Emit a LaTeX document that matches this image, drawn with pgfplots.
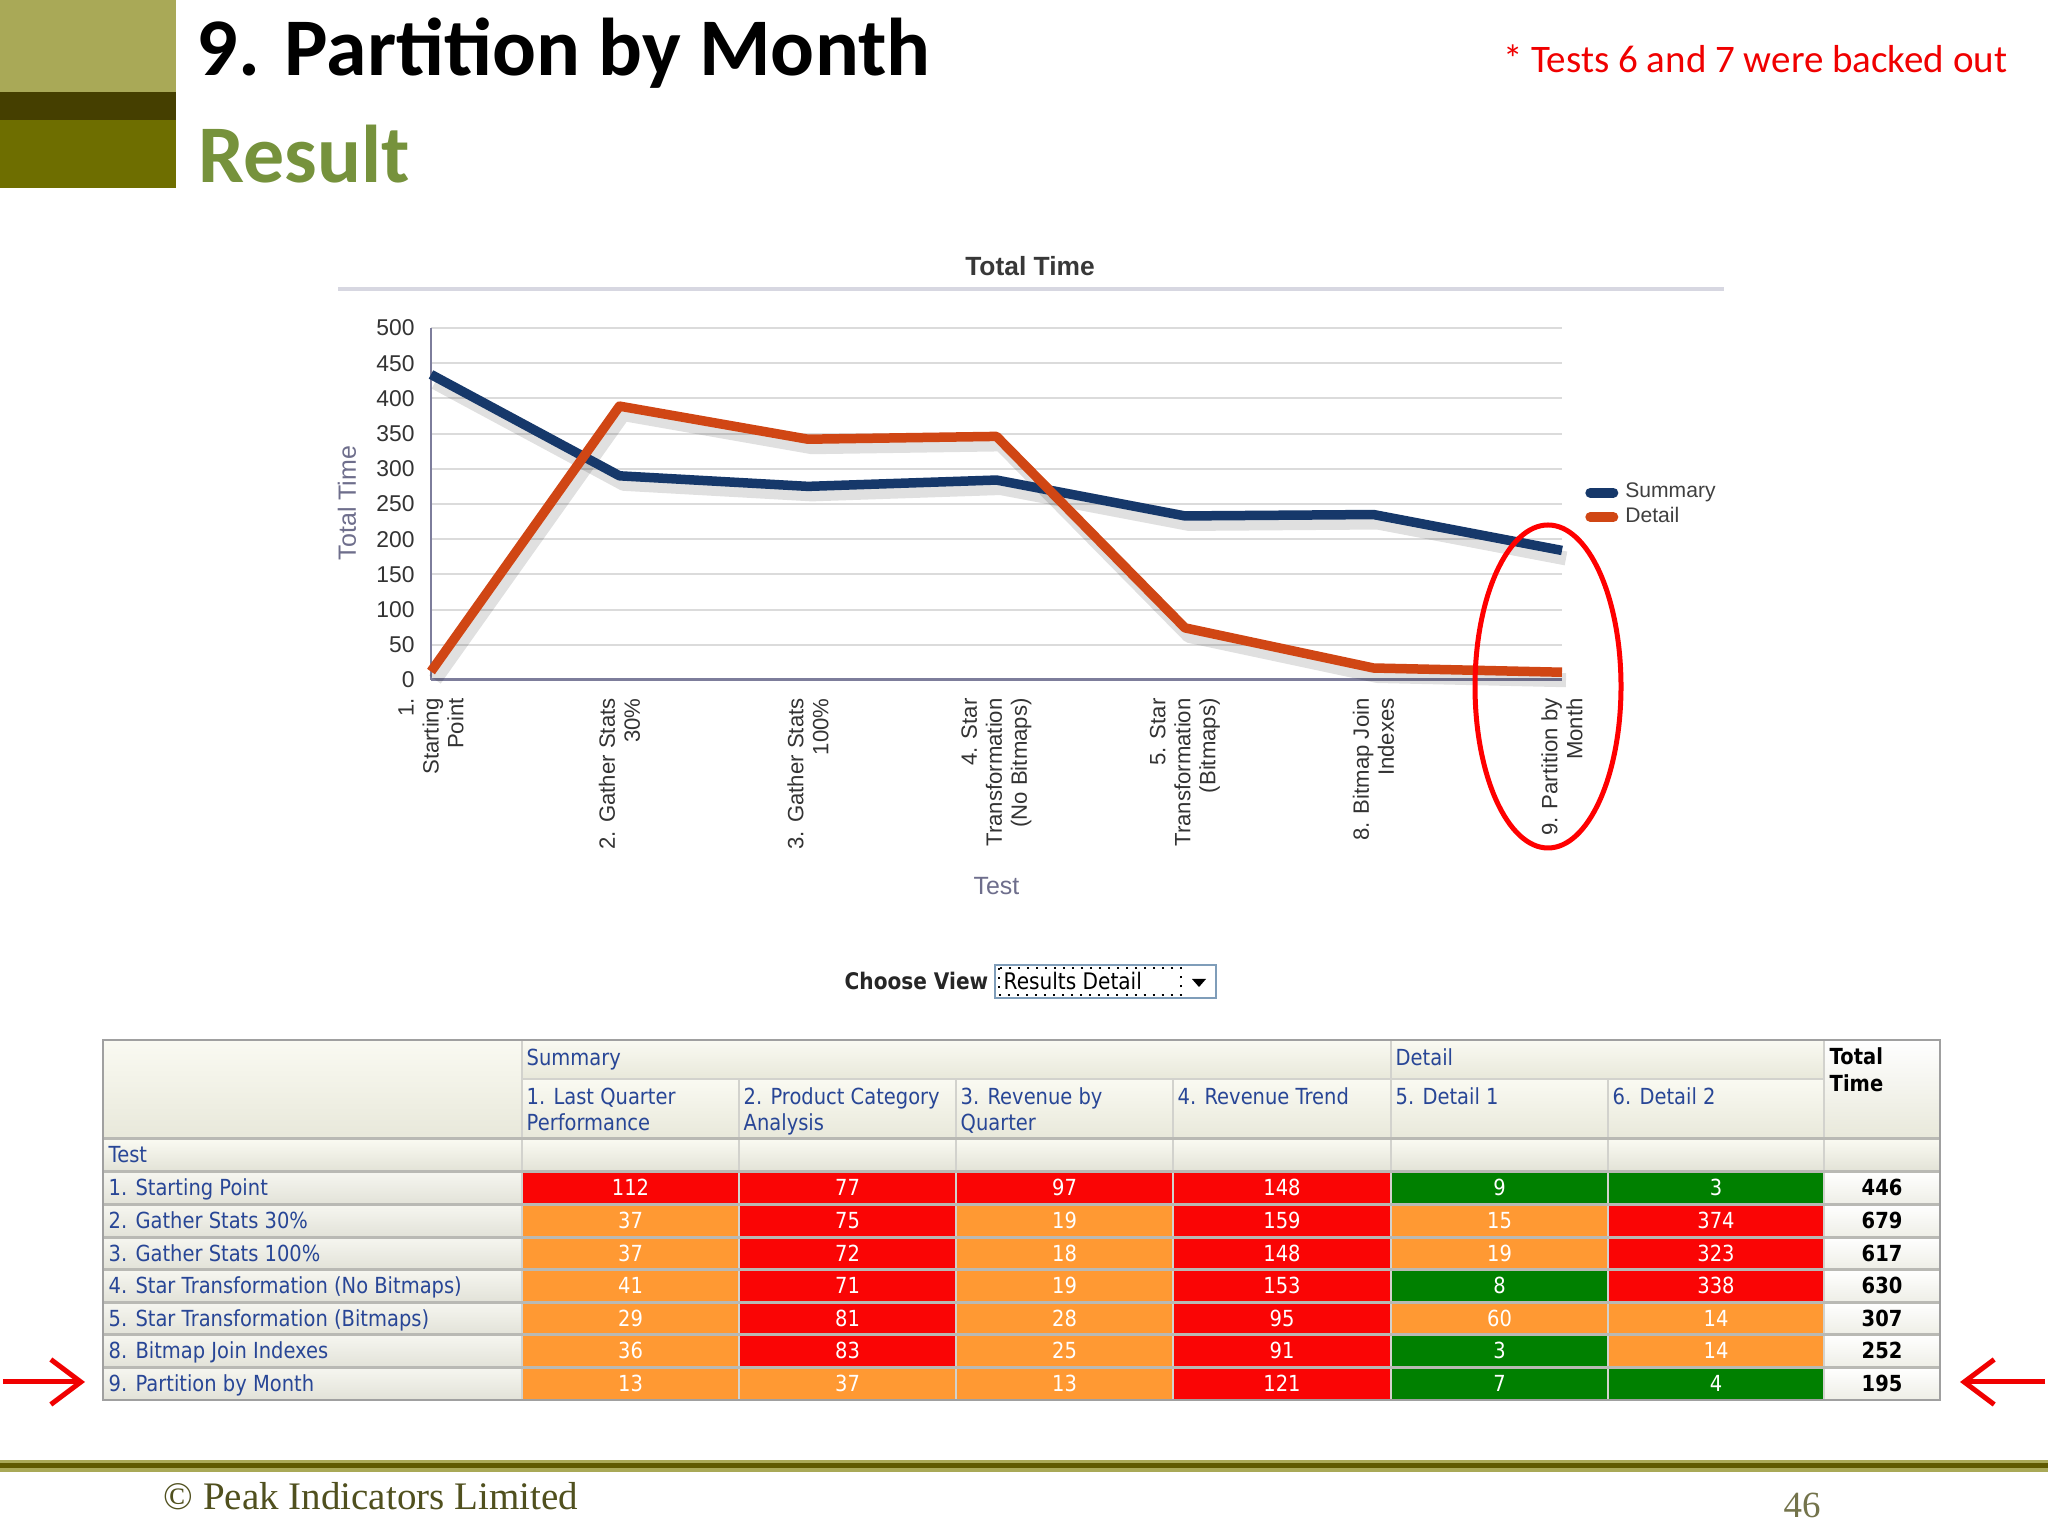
\documentclass[border=0pt]{standalone}
\usepackage{fontspec}
\setmainfont{Carlito}
\newfontfamily\arial{Liberation Sans}
\newfontfamily\tah[FakeStretch=0.88]{DejaVu Sans}
\newfontfamily\serif{Liberation Serif}
\usepackage{pgfplots}
\pgfplotsset{compat=1.18}
\usetikzlibrary{arrows.meta}

\definecolor{oliveL}{RGB}{169,169,87}
\definecolor{oliveD}{RGB}{69,63,0}
\definecolor{oliveM}{RGB}{110,110,0}
\definecolor{footD}{RGB}{95,90,0}
\definecolor{resultG}{RGB}{118,146,60}
\definecolor{noteR}{RGB}{240,0,0}
\definecolor{sumC}{RGB}{22,56,106}
\definecolor{detC}{RGB}{208,70,20}
\definecolor{cR}{RGB}{250,5,5}
\definecolor{cO}{RGB}{255,153,51}
\definecolor{cG}{RGB}{0,128,0}
\definecolor{hdrT}{RGB}{40,70,150}
\definecolor{axlab}{RGB}{110,110,140}
\definecolor{axline}{RGB}{125,125,155}
\definecolor{titleL}{RGB}{215,215,225}
\definecolor{hTop}{RGB}{250,250,242}
\definecolor{hBot}{RGB}{232,232,218}
\definecolor{tBot}{RGB}{226,226,214}
\definecolor{lTop}{RGB}{246,246,240}
\definecolor{lBot}{RGB}{226,226,216}
\definecolor{totBot}{RGB}{238,238,230}
\definecolor{gridC}{RGB}{185,185,180}
\definecolor{vC}{RGB}{210,210,205}
\definecolor{outerC}{RGB}{160,160,160}
\definecolor{footC}{RGB}{80,80,30}
\definecolor{ddB}{RGB}{127,157,185}

\newcommand\fsz[2]{\fontsize{#1}{#2}\selectfont}
\newcommand\tabf{\tah\fsz{6.3}{7.4}}
\tikzset{lab/.style={anchor=base west, inner sep=0pt}}

\begin{document}
\begin{tikzpicture}
\fill[white] (0,0) rectangle (204.8mm,153.6mm);
\useasboundingbox (0,0) rectangle (204.8mm,153.6mm);

\begin{scope}[x=0.1mm,y=-0.1mm,shift={(0,153.6mm)}]
% top-left block
\fill[oliveL] (0,0) rectangle (176,92);
\fill[oliveD] (0,92) rectangle (176,120);
\fill[oliveM] (0,120) rectangle (176,188);
\node[lab, font=\bfseries\fsz{23.3}{23.3}] at (196,76) {9. Partition by Month};
\node[lab, font=\bfseries\fsz{23.3}{23.3}, text=resultG] at (198,183) {Result};
\node[anchor=base east, inner sep=0pt, font=\fsz{11.1}{11.1}, text=noteR] at (2008,73) {* Tests 6 and 7 were backed out};

% chart title
\node[font=\arial\bfseries\fsz{7.5}{7.5}, text=black!78] at (1030,266) {Total Time};
\draw[titleL, line width=0.35mm] (338,289) -- (1724,289);

% choose view
\node[lab, font=\tah\bfseries\fsz{6.5}{6.5}, text=black!85] at (844,990) {Choose View};
\draw[ddB, line width=0.2mm] (995,965) rectangle (1216,998);
\draw[black, dotted, line width=0.2mm] (999,968) rectangle (1181,995);
\node[lab, font=\tah\fsz{6.5}{6.5}] at (1003,990) {Results Detail};
\fill[black] (1192,979) -- (1206,979) -- (1199,987) -- cycle;

% table backgrounds (header)
\shade[top color=hTop, bottom color=hBot] (103,1040) rectangle (522,1139);
\shade[top color=hTop, bottom color=hBot] (522,1040) rectangle (1824,1079);
\shade[top color=hTop, bottom color=hBot] (522,1079) rectangle (1824,1139);
\shade[top color=white, bottom color=hBot] (1824,1040) rectangle (1940,1139);
\shade[top color=hTop, bottom color=tBot] (103,1139) rectangle (1940,1172);

% header text
\node[lab,font=\tabf,text=hdrT] at (526,1066) {Summary};
\node[lab,font=\tabf,text=hdrT] at (1395,1066) {Detail};
\node[lab,font=\tabf\bfseries] at (1829,1065) {Total};
\node[lab,font=\tabf\bfseries] at (1829,1092) {Time};
\node[lab,font=\tabf,text=hdrT] at (526,1105) {1. Last Quarter};
\node[lab,font=\tabf,text=hdrT] at (526,1131) {Performance};
\node[lab,font=\tabf,text=hdrT] at (743,1105) {2. Product Category};
\node[lab,font=\tabf,text=hdrT] at (743,1131) {Analysis};
\node[lab,font=\tabf,text=hdrT] at (960,1105) {3. Revenue by};
\node[lab,font=\tabf,text=hdrT] at (960,1131) {Quarter};
\node[lab,font=\tabf,text=hdrT] at (1177,1105) {4. Revenue Trend};
\node[lab,font=\tabf,text=hdrT] at (1395,1105) {5. Detail 1};
\node[lab,font=\tabf,text=hdrT] at (1612,1105) {6. Detail 2};
\node[lab,font=\tabf,text=hdrT] at (108,1163) {Test};

% data rows
\foreach \lab/\nA/\kA/\nB/\kB/\nC/\kC/\nD/\kD/\nE/\kE/\nF/\kF/\tot [count=\r from 0] in {
 {1. Starting Point}/112/cR/77/cR/97/cR/148/cR/9/cG/3/cG/446,
 {2. Gather Stats 30\%}/37/cO/75/cR/19/cO/159/cR/15/cO/374/cR/679,
 {3. Gather Stats 100\%}/37/cO/72/cR/18/cO/148/cR/19/cO/323/cR/617,
 {4. Star Transformation (No Bitmaps)}/41/cO/71/cR/19/cO/153/cR/8/cG/338/cR/630,
 {5. Star Transformation (Bitmaps)}/29/cO/81/cR/28/cO/95/cR/60/cO/14/cO/307,
 {8. Bitmap Join Indexes}/36/cO/83/cR/25/cO/91/cR/3/cG/14/cO/252,
 {9. Partition by Month}/13/cO/37/cO/13/cO/121/cR/7/cG/4/cG/195}
{
 \pgfmathsetmacro\yt{1172+\r*32.57}
 \pgfmathsetmacro\yb{\yt+32.57}
 \pgfmathsetmacro\yl{\yt+24}
 \shade[top color=lTop, bottom color=lBot] (103,\yt) rectangle (522,\yb);
 \node[lab,font=\tabf,text=hdrT] at (108,\yl) {\lab};
 \fill[\kA] (522,\yt) rectangle (739,\yb);
 \node[anchor=base,inner sep=0pt,font=\tabf,text=white] at (630.5,\yl) {\nA};
 \fill[\kB] (739,\yt) rectangle (956,\yb);
 \node[anchor=base,inner sep=0pt,font=\tabf,text=white] at (847.5,\yl) {\nB};
 \fill[\kC] (956,\yt) rectangle (1173,\yb);
 \node[anchor=base,inner sep=0pt,font=\tabf,text=white] at (1064.5,\yl) {\nC};
 \fill[\kD] (1173,\yt) rectangle (1391,\yb);
 \node[anchor=base,inner sep=0pt,font=\tabf,text=white] at (1282,\yl) {\nD};
 \fill[\kE] (1391,\yt) rectangle (1608,\yb);
 \node[anchor=base,inner sep=0pt,font=\tabf,text=white] at (1499.5,\yl) {\nE};
 \fill[\kF] (1608,\yt) rectangle (1824,\yb);
 \node[anchor=base,inner sep=0pt,font=\tabf,text=white] at (1716,\yl) {\nF};
 \shade[top color=white, bottom color=totBot] (1824,\yt) rectangle (1940,\yb);
 \node[anchor=base,inner sep=0pt,font=\tabf\bfseries] at (1882,\yl) {\tot};
}

% table lines
\foreach \x in {739,956,1173,1608} \draw[vC, line width=0.2mm] (\x,1079) -- (\x,1400);
\foreach \x in {522,1391,1824} \draw[vC, line width=0.2mm] (\x,1040) -- (\x,1400);
\draw[vC, line width=0.25mm] (522,1079) -- (1824,1079);
\foreach \y in {1139,1172,1204.57,1237.14,1269.71,1302.28,1334.85,1367.42}
  \draw[gridC, line width=0.3mm] (103,\y) -- (1940,\y);
\draw[outerC, line width=0.25mm] (103,1040) rectangle (1940,1400);

% arrows
\draw[noteR, line width=0.5mm, -{Straight Barb[length=3mm,width=4.5mm]}] (3,1382) -- (85,1382);
\draw[noteR, line width=0.5mm, -{Straight Barb[length=3mm,width=4.5mm]}] (2045,1382) -- (1960,1382);

% footer
\fill[oliveL] (0,1460) rectangle (2048,1472);
\fill[footD] (0,1463) rectangle (2048,1468);
\node[lab, font=\serif\fsz{11.1}{11.1}, text=footC] at (163,1510) {© Peak Indicators Limited};
\node[lab, font=\serif\fsz{10.5}{10.5}, text=footC!80] at (1783,1518) {46};
\end{scope}

\begin{axis}[
  at={(43.1mm,85.6mm)}, anchor=south west,
  scale only axis, width=113.1mm, height=35.2mm,
  xmin=0, xmax=6, ymin=0, ymax=500,
  clip=false,
  /pgf/number format/assume math mode=true,
  axis x line*=bottom, axis y line*=left,
  axis line style={-},
  x axis line style={axline, line width=0.3mm},
  y axis line style={axline, line width=0.2mm},
  major tick length=0pt,
  ymajorgrids, major grid style={black!14, line width=0.2mm},
  ytick={0,50,...,500},
  yticklabel style={font=\arial\fsz{6.5}{6.5}, text=black!80},
  yticklabel shift=0.4mm,
  xtick={0,...,6},
  xticklabels={{1.\\Starting\\Point},{2. Gather Stats\\30\%},{3. Gather Stats\\100\%},{4. Star\\Transformation\\(No Bitmaps)},{5. Star\\Transformation\\(Bitmaps)},{8. Bitmap Join\\Indexes},{9. Partition by\\Month}},
  xticklabel style={rotate=90, anchor=east, align=right, font=\arial\fsz{6.3}{7.1}, text=black!80},
  xticklabel shift=0.6mm,
  xlabel={Test},
  xlabel style={at={(axis description cs:0.5,-0.585)}, anchor=center, font=\arial\fsz{7.1}{7.1}, text=axlab},
  ylabel={Total Time},
  ylabel style={at={(axis description cs:-0.0743,0.503)}, anchor=center, font=\arial\fsz{7.1}{7.1}, text=axlab},
  legend style={at={(1.02,0.497)}, anchor=west, draw=none, fill=none, font=\arial\fsz{6}{6}, text=black!75, inner sep=0pt, row sep=-1.0mm},
  legend cell align=left,
  legend image code/.code={\draw[#1, line width=1mm, line cap=round] (0mm,0mm) -- (2.3mm,0mm);},
]
\addplot[forget plot, black, opacity=0.12, line width=1.4mm, line join=round, transform canvas={xshift=0.4mm,yshift=-0.8mm}] coordinates {(0,434) (1,290) (2,275) (3,284) (4,233) (5,235) (6,184)};
\addplot[forget plot, black, opacity=0.12, line width=1.4mm, line join=round, transform canvas={xshift=0.4mm,yshift=-0.8mm}] coordinates {(0,12) (1,389) (2,342) (3,346) (4,74) (5,17) (6,11)};
\addplot[sumC, line width=0.95mm, line join=round] coordinates {(0,434) (1,290) (2,275) (3,284) (4,233) (5,235) (6,184)};
\addlegendentry{Summary}
\addplot[detC, line width=0.95mm, line join=round] coordinates {(0,12) (1,389) (2,342) (3,346) (4,74) (5,17) (6,11)};
\addlegendentry{Detail}
\end{axis}

\begin{scope}[x=0.1mm,y=-0.1mm,shift={(0,153.6mm)}]
\draw[red, line width=0.5mm] (1548,686.5) ellipse [x radius=73, y radius=161.5];
\end{scope}
\end{tikzpicture}
\end{document}
